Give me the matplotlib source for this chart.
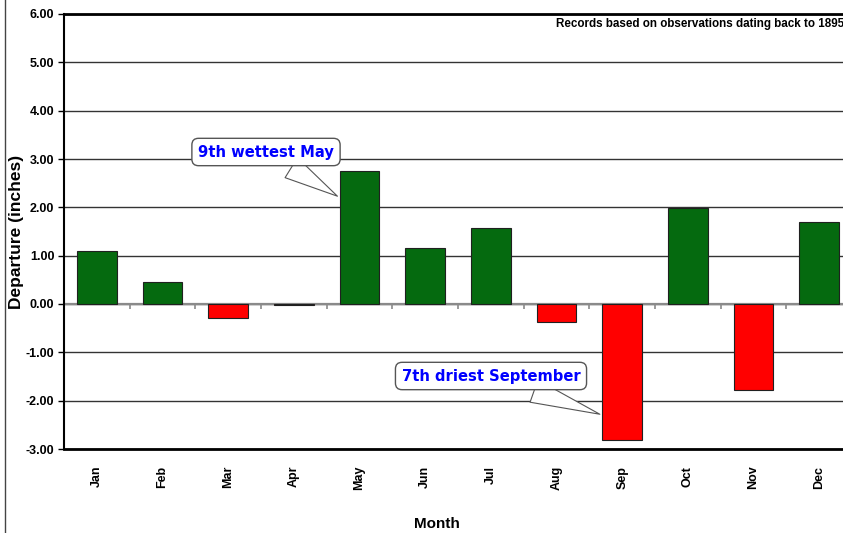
import matplotlib

matplotlib.use("Agg")
import matplotlib.pyplot as plt  # noqa: E402
import numpy as np  # noqa: E402

months = ["Jan", "Feb", "Mar", "Apr", "May", "Jun",
          "Jul", "Aug", "Sep", "Oct", "Nov", "Dec"]
departure = [1.10, 0.46, -0.29, -0.02, 2.75, 1.16,
             1.57, -0.37, -2.82, 1.99, -1.78, 1.70]
y_ticks = [-3, -2, -1, 0, 1, 2, 3, 4, 5, 6]
note = "Records based on observations dating back to 1895"
callouts = [("9th wettest May", 4), ("7th driest September", 8)]

plt.rcParams["font.family"] = ["Liberation Sans", "DejaVu Sans"]
plt.rcParams["font.weight"] = "bold"

W, H = 843, 533
fig = plt.figure(figsize=(W / 100, H / 100), dpi=100)
ax = fig.add_axes([64 / W, 1 - 449 / H, 788 / W, 435 / H])

x = np.arange(len(months))
colors = ["#056a0f" if v >= 0 else "#ff0000" for v in departure]
ax.bar(x, departure, width=0.6, color=colors, edgecolor="#202020", lw=0.8, zorder=3)

ax.set_xlim(-0.5, len(months) - 0.5)
ax.set_ylim(-3, 6)
ax.set_yticks(y_ticks)
ax.set_yticklabels([f"{t:.2f}" for t in y_ticks], fontsize=9, fontweight="bold")
ax.yaxis.grid(True, color="#333333", lw=1.0, zorder=0)
ax.axhline(0, color="#8a8a8a", lw=1.6, zorder=2)
# small category ticks hanging off the zero line
ax.vlines(np.arange(0.5, len(months) - 0.5), -0.1, 0, color="#8a8a8a", lw=1.2, zorder=2)

ax.set_xticks(x)
ax.set_xticklabels(months, rotation=90, fontsize=9, fontweight="bold")
ax.tick_params(axis="x", length=0, pad=12)
ax.tick_params(axis="y", length=4, width=1, direction="out", pad=3)

for side in ("top", "bottom"):
    ax.spines[side].set_linewidth(2)
ax.spines["left"].set_linewidth(1.5)
ax.spines["right"].set_visible(False)

fig.text(556 / W, 1 - 24 / H, note, fontsize=8.4, fontweight="bold",
         ha="left", va="center")

# callouts
box = dict(boxstyle="round,pad=0.42,rounding_size=0.45", fc="white", ec="#555555", lw=1)
wedge = dict(arrowstyle="wedge,tail_width=1.6", fc="white", ec="#555555", lw=0.8)
ax.annotate(callouts[0][0], xy=(x[callouts[0][1]] - 0.3, departure[callouts[0][1]] - 0.55),
            xytext=(266 / W, 1 - 152 / H), textcoords="figure fraction",
            ha="center", va="center", fontsize=10.6, color="#0000ff",
            fontfamily="DejaVu Sans", fontweight="bold",
            bbox=box, arrowprops=wedge, zorder=5)
ax.annotate(callouts[1][0], xy=(x[callouts[1][1]] - 0.3, -2.3),
            xytext=(491 / W, 1 - 376 / H), textcoords="figure fraction",
            ha="center", va="center", fontsize=10.6, color="#0000ff",
            fontfamily="DejaVu Sans", fontweight="bold",
            bbox=box, arrowprops=wedge, zorder=5)

fig.text(17 / W, 1 - 232 / H, "Departure (inches)", rotation=90, fontsize=12.5,
         fontweight="bold", ha="center", va="center")
fig.text(437 / W, 1 - 524 / H, "Month", fontsize=11, fontweight="bold",
         ha="center", va="center")

# outer chart frame edge on the left
fig.add_artist(plt.Line2D([5 / W, 5 / W], [0, 1], color="#444444", lw=1,
                          transform=fig.transFigure))

fig.savefig("out.png", dpi=100)
